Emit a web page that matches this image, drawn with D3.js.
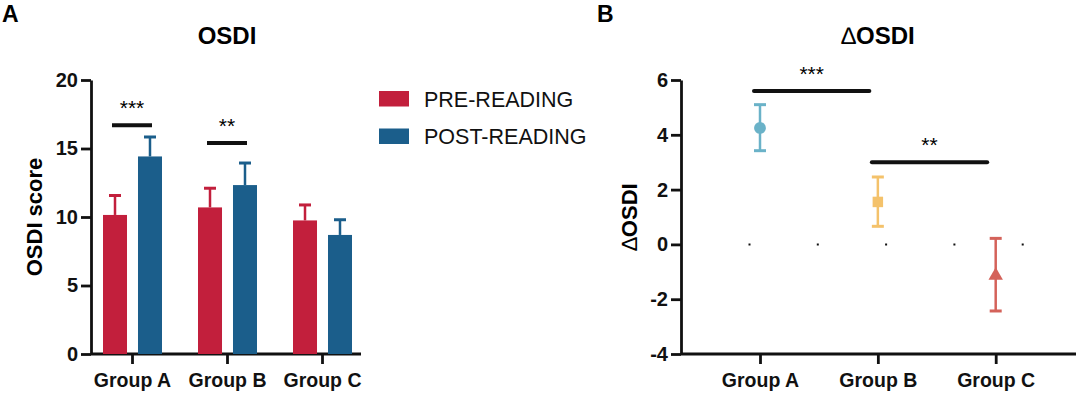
<!DOCTYPE html>
<html>
<head>
<meta charset="utf-8">
<script src="https://cdn.jsdelivr.net/npm/d3@7"></script>
<style>
  body { margin: 0; background: #fff; }
  svg { display: block; font-family: "Liberation Sans", Arial, sans-serif; }
  .axis path, .axis line { stroke: #111; stroke-width: 2.8px; }
  .axis text { font-weight: bold; font-size: 20px; fill: #111; }
  .axis-x text { font-size: 19.5px; }
</style>
</head>
<body>
<svg id="chart" width="1080" height="394"></svg>
<script>
// panel A data
const groups = ['Group A', 'Group B', 'Group C']
const series = ['PRE-READING', 'POST-READING']
const preMean = [10.15, 10.7, 9.75]
const preErr = [11.57, 12.1, 10.88]
const postMean = [14.42, 12.33, 8.69]
const postErr = [15.84, 13.94, 9.8]
const osdiTicks = [0, 5, 10, 15, 20]
const sigA = [{ group: 'Group A', y: 16.7, label: '***' }, { group: 'Group B', y: 15.4, label: '**' }]

// panel B data
const deltaMean = [4.25, 1.55, -1.14]
const deltaLow = [3.42, 0.66, -2.43]
const deltaHigh = [5.1, 2.46, 0.22]
const deltaTicks = [-4, -2, 0, 2, 4, 6]
const sigB = [{ from: 'Group A', to: 'Group B', y: 5.6, label: '***' },
              { from: 'Group B', to: 'Group C', y: 3.0, label: '**' }]

const barColors = ['#c21f3c', '#1b5e8b']
const dotColors = ['#6ab2c8', '#f4c26b', '#d4625a']

const svg = d3.select('#chart')

// ---------- panel A ----------
const a = { left: 91, right: 361, top: 80, bottom: 354 }
const xA = d3.scaleBand().domain(groups).range([103, 352]).paddingInner(0.379).paddingOuter(0)
const xSub = d3.scaleBand().domain(series).range([0, xA.bandwidth()]).paddingInner(0.314)
const yA = d3.scaleLinear().domain([0, 20]).range([a.bottom, a.top])

const gA = svg.append('g')

gA.append('g').attr('class', 'axis')
  .attr('transform', 'translate(' + a.left + ',0)')
  .call(d3.axisLeft(yA).tickValues(osdiTicks).tickSize(10).tickPadding(3).tickSizeOuter(0))
gA.append('g').attr('class', 'axis axis-x')
  .attr('transform', 'translate(0,' + a.bottom + ')')
  .call(d3.axisBottom(xA).tickSize(10).tickPadding(9).tickSizeOuter(0))
  .call(g => g.select('.domain').attr('d', 'M' + a.left + ',0H' + a.right))

const barData = []
groups.forEach((g, i) => {
  barData.push({ g: g, s: series[0], v: preMean[i], e: preErr[i], c: barColors[0] })
  barData.push({ g: g, s: series[1], v: postMean[i], e: postErr[i], c: barColors[1] })
})

const bars = gA.append('g').selectAll('g').data(barData).enter().append('g')
  .attr('transform', d => 'translate(' + (xA(d.g) + xSub(d.s)) + ',0)')
bars.append('line')
  .attr('x1', xSub.bandwidth() / 2).attr('x2', xSub.bandwidth() / 2)
  .attr('y1', d => yA(d.v)).attr('y2', d => yA(d.e))
  .attr('stroke', d => d.c).attr('stroke-width', 2.5)
bars.append('line')
  .attr('x1', xSub.bandwidth() / 2 - 6).attr('x2', xSub.bandwidth() / 2 + 6)
  .attr('y1', d => yA(d.e)).attr('y2', d => yA(d.e))
  .attr('stroke', d => d.c).attr('stroke-width', 3)
bars.append('rect')
  .attr('y', d => yA(d.v))
  .attr('width', xSub.bandwidth())
  .attr('height', d => yA(0) - yA(d.v))
  .attr('fill', d => d.c)

sigA.forEach(s => {
  const x0 = xA(s.group) + xSub(series[0]) + xSub.bandwidth() / 2 - 3
  const x1 = xA(s.group) + xSub(series[1]) + xSub.bandwidth() / 2 + 2
  gA.append('line').attr('x1', x0).attr('x2', x1).attr('y1', yA(s.y)).attr('y2', yA(s.y))
    .attr('stroke', '#111').attr('stroke-width', 4)
  gA.append('text').attr('x', (x0 + x1) / 2).attr('y', yA(s.y) - 10)
    .attr('text-anchor', 'middle').style('font-size', '21px').text(s.label)
})

gA.append('text').attr('x', 227).attr('y', 44).attr('text-anchor', 'middle')
  .style('font-weight', 'bold').style('font-size', '24px').text('OSDI')
gA.append('text').attr('x', 2).attr('y', 21.5)
  .style('font-weight', 'bold').style('font-size', '23px').text('A')
gA.append('text').attr('transform', 'translate(41.5,' + ((a.top + a.bottom) / 2) + ') rotate(-90)')
  .attr('text-anchor', 'middle').style('font-weight', 'bold').style('font-size', '22px').text('OSDI score')

// legend
const leg = gA.append('g').attr('transform', 'translate(379,91)')
series.forEach((s, i) => {
  leg.append('rect').attr('x', 0).attr('y', i * 37.5).attr('width', 30).attr('height', 15.5).attr('fill', barColors[i])
  leg.append('text').attr('x', 45).attr('y', i * 37 + 15.5).style('font-size', '21.5px').attr('fill', '#111').text(s)
})

// ---------- panel B ----------
const b = { left: 681, right: 1076, top: 80, bottom: 354 }
const xB = d3.scalePoint().domain(groups).range([760, 995.7])
const yB = d3.scaleLinear().domain([-4, 6]).range([b.bottom, b.top])

const gB = svg.append('g')
gB.append('g').attr('class', 'axis')
  .attr('transform', 'translate(' + b.left + ',0)')
  .call(d3.axisLeft(yB).tickValues(deltaTicks).tickFormat(d => String(d)).tickSize(10).tickPadding(3).tickSizeOuter(0))
gB.append('g').attr('class', 'axis axis-x')
  .attr('transform', 'translate(0,' + b.bottom + ')')
  .call(d3.axisBottom(xB).tickSize(10).tickPadding(9).tickSizeOuter(0))
  .call(g => g.select('.domain').attr('d', 'M' + b.left + ',0H' + b.right))

// dotted zero line
gB.append('line').attr('x1', 748.5).attr('x2', 1024).attr('y1', yB(0)).attr('y2', yB(0))
  .attr('stroke', '#111').attr('stroke-width', 2).attr('stroke-dasharray', '2 66.3')

const pts = groups.map((g, i) => ({ g: g, m: deltaMean[i], lo: deltaLow[i], hi: deltaHigh[i], c: dotColors[i], i: i }))
const pg = gB.append('g').selectAll('g').data(pts).enter().append('g')
  .attr('transform', d => 'translate(' + xB(d.g) + ',0)')
pg.append('line').attr('y1', d => yB(d.lo)).attr('y2', d => yB(d.hi))
  .attr('stroke', d => d.c).attr('stroke-width', 2.5)
pg.append('line').attr('x1', -6).attr('x2', 6).attr('y1', d => yB(d.hi)).attr('y2', d => yB(d.hi))
  .attr('stroke', d => d.c).attr('stroke-width', 3)
pg.append('line').attr('x1', -6).attr('x2', 6).attr('y1', d => yB(d.lo)).attr('y2', d => yB(d.lo))
  .attr('stroke', d => d.c).attr('stroke-width', 3)
const shapes = [d3.symbolCircle, d3.symbolSquare, d3.symbolTriangle]
pg.append('path')
  .attr('transform', d => 'translate(0,' + yB(d.m) + ')')
  .attr('d', d => d3.symbol().type(shapes[d.i]).size(d.i === 2 ? 90 : 110)())
  .attr('fill', d => d.c)

sigB.forEach(s => {
  const x0 = xB(s.from) - 6, x1 = xB(s.to) - 8.5
  gB.append('line').attr('x1', x0).attr('x2', x1).attr('y1', yB(s.y)).attr('y2', yB(s.y))
    .attr('stroke', '#111').attr('stroke-width', 4).attr('stroke-linecap', 'round')
  gB.append('text').attr('x', (x0 + x1) / 2).attr('y', yB(s.y) - 10)
    .attr('text-anchor', 'middle').style('font-size', '21px').text(s.label)
})

// delta sign drawn thin, as in the original
function deltaLabel(sel) {
  sel.append('tspan').style('font-weight', 'normal').text('\u2206')
  sel.append('tspan').text('OSDI')
}
gB.append('text').attr('x', 878).attr('y', 44).attr('text-anchor', 'middle')
  .style('font-weight', 'bold').style('font-size', '24px').call(deltaLabel)
gB.append('text').attr('x', 597).attr('y', 21.5)
  .style('font-weight', 'bold').style('font-size', '23px').text('B')
gB.append('text').attr('transform', 'translate(637,' + ((b.top + b.bottom) / 2) + ') rotate(-90)')
  .attr('text-anchor', 'middle').style('font-weight', 'bold').style('font-size', '22px').call(deltaLabel)
</script>
</body>
</html>
